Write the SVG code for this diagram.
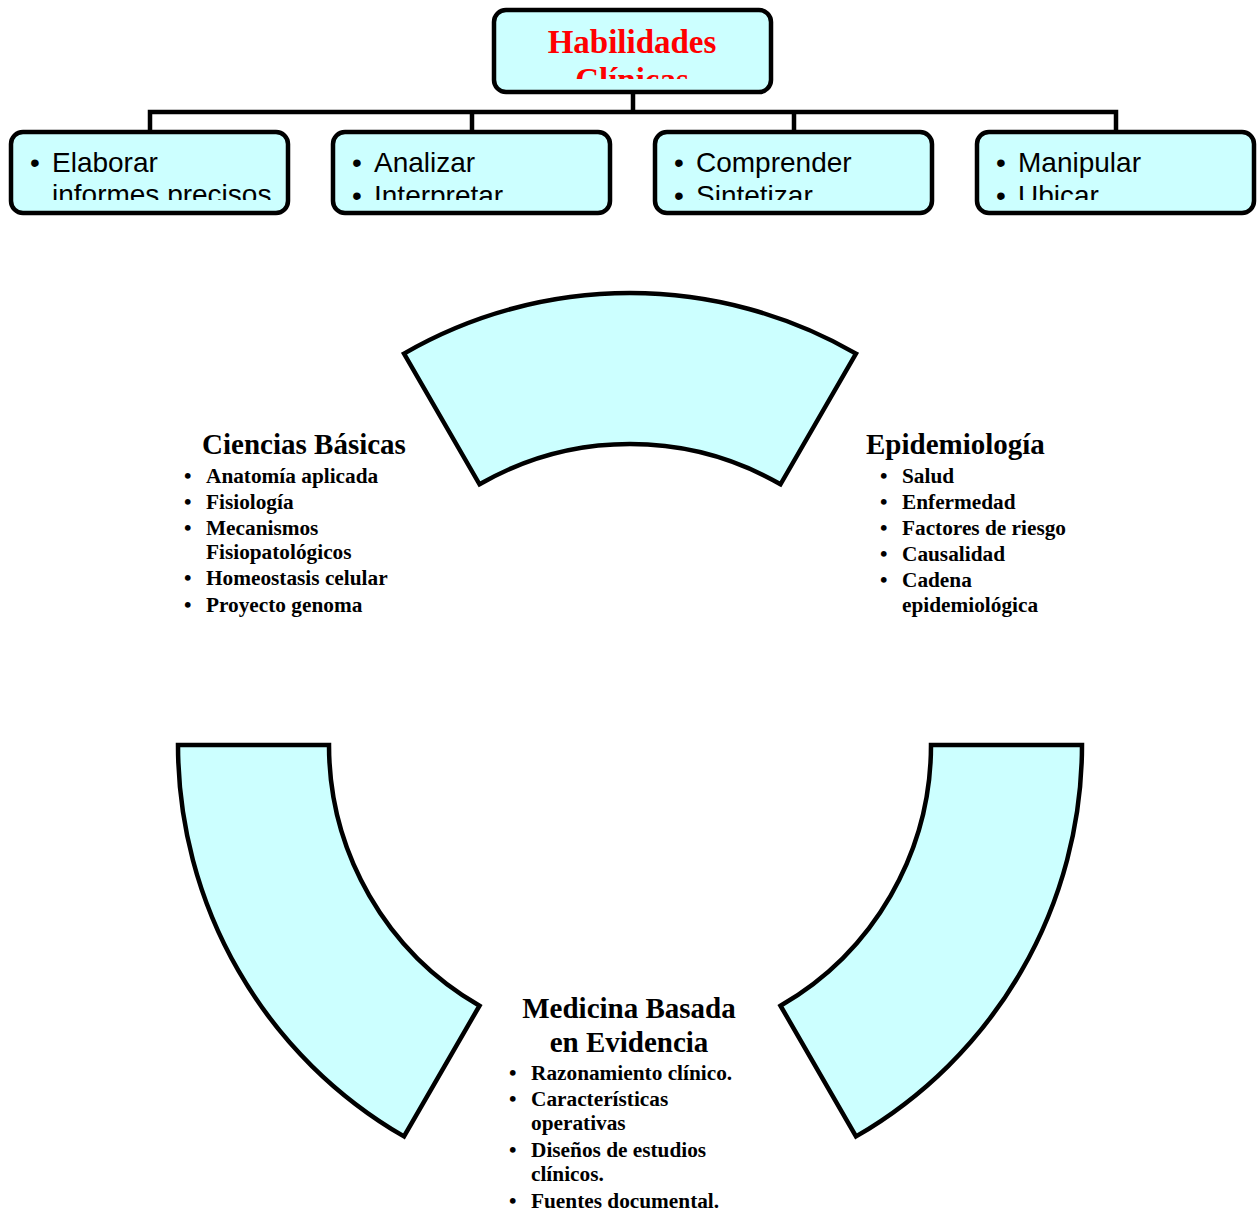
<svg xmlns="http://www.w3.org/2000/svg" width="1258" height="1213" viewBox="0 0 1258 1213">
<style>
.box{fill:#CCFFFF;stroke:#000;stroke-width:4.5}
.seg{fill:#CCFFFF;stroke:#000;stroke-width:4.5;stroke-linejoin:miter}
.conn{fill:none;stroke:#000;stroke-width:4.5}
.title{font-family:"Liberation Serif",serif;font-weight:bold;font-size:33px;fill:#FF0000}
.item{font-family:"Liberation Sans",Arial,sans-serif;font-size:28px;fill:#000}
.head{font-family:"Liberation Serif",serif;font-weight:bold;font-size:29px;fill:#000}
.li{font-family:"Liberation Serif",serif;font-weight:bold;font-size:21.3px;fill:#000}
</style>
<defs>
<clipPath id="cTop"><rect x="498" y="14" width="270" height="65"/></clipPath>
<clipPath id="c1"><rect x="15" y="136" width="270" height="64"/></clipPath>
<clipPath id="c2"><rect x="337" y="136" width="270" height="64"/></clipPath>
<clipPath id="c3"><rect x="659" y="136" width="270" height="64"/></clipPath>
<clipPath id="c4"><rect x="981" y="136" width="270" height="64"/></clipPath>
</defs>
<rect width="1258" height="1213" fill="#fff"/>
<g id="connectors">
<path class="conn" d="M633 92V112M150 132V112H1116V132M472 112V132M794 112V132"/>
</g>
<g id="habilidades">
<rect class="box" x="494" y="10" width="277" height="82" rx="12"/>
<g clip-path="url(#cTop)">
<text class="title" x="632" y="53" text-anchor="middle">Habilidades</text>
<text class="title" x="632" y="91" text-anchor="middle">Clínicas</text>
</g>
</g>
<g id="box1">
<rect class="box" x="11" y="132" width="277" height="81" rx="12"/>
<g clip-path="url(#c1)">
<text class="item" x="30" y="172">•</text><text class="item" x="52" y="172">Elaborar</text>
<text class="item" x="52" y="204">informes precisos</text>
</g>
</g>
<g id="box2">
<rect class="box" x="333" y="132" width="277" height="81" rx="12"/>
<g clip-path="url(#c2)">
<text class="item" x="352" y="172">•</text><text class="item" x="374" y="172">Analizar</text>
<text class="item" x="352" y="205">•</text><text class="item" x="374" y="205">Interpretar</text>
</g>
</g>
<g id="box3">
<rect class="box" x="655" y="132" width="277" height="81" rx="12"/>
<g clip-path="url(#c3)">
<text class="item" x="674" y="172">•</text><text class="item" x="696" y="172">Comprender</text>
<text class="item" x="674" y="205">•</text><text class="item" x="696" y="205">Sintetizar</text>
</g>
</g>
<g id="box4">
<rect class="box" x="977" y="132" width="277" height="81" rx="12"/>
<g clip-path="url(#c4)">
<text class="item" x="996" y="172">•</text><text class="item" x="1018" y="172">Manipular</text>
<text class="item" x="996" y="205">•</text><text class="item" x="1018" y="205">Ubicar</text>
</g>
</g>
<g id="arc-top">
<path class="seg" d="M404 353.6A452 452 0 0 1 856 353.6L780.5 484.3A301 301 0 0 0 479.5 484.3Z"/>
</g>
<g id="arc-left">
<path class="seg" d="M178 745A452 452 0 0 0 404 1136.4L479.5 1005.7A301 301 0 0 1 329 745Z"/>
</g>
<g id="arc-right">
<path class="seg" d="M1082 745A452 452 0 0 1 856 1136.4L780.5 1005.7A301 301 0 0 0 931 745Z"/>
</g>
<g id="ciencias">
<text class="head" x="304" y="454" text-anchor="middle">Ciencias Básicas</text>
<text class="li" x="184" y="483">•</text><text class="li" x="206" y="483">Anatomía aplicada</text>
<text class="li" x="184" y="509">•</text><text class="li" x="206" y="509">Fisiología</text>
<text class="li" x="184" y="535">•</text><text class="li" x="206" y="535">Mecanismos</text>
<text class="li" x="206" y="559">Fisiopatológicos</text>
<text class="li" x="184" y="585">•</text><text class="li" x="206" y="585">Homeostasis celular</text>
<text class="li" x="184" y="612">•</text><text class="li" x="206" y="612">Proyecto genoma</text>
</g>
<g id="epidemiologia">
<text class="head" x="866" y="454">Epidemiología</text>
<text class="li" x="880" y="483">•</text><text class="li" x="902" y="483">Salud</text>
<text class="li" x="880" y="509">•</text><text class="li" x="902" y="509">Enfermedad</text>
<text class="li" x="880" y="535">•</text><text class="li" x="902" y="535">Factores de riesgo</text>
<text class="li" x="880" y="561">•</text><text class="li" x="902" y="561">Causalidad</text>
<text class="li" x="880" y="587">•</text><text class="li" x="902" y="587">Cadena</text>
<text class="li" x="902" y="612">epidemiológica</text>
</g>
<g id="medicina">
<text class="head" x="629" y="1018" text-anchor="middle">Medicina Basada</text>
<text class="head" x="629" y="1052" text-anchor="middle">en Evidencia</text>
<text class="li" x="509" y="1080">•</text><text class="li" x="531" y="1080">Razonamiento clínico.</text>
<text class="li" x="509" y="1106">•</text><text class="li" x="531" y="1106">Características</text>
<text class="li" x="531" y="1130">operativas</text>
<text class="li" x="509" y="1157">•</text><text class="li" x="531" y="1157">Diseños de estudios</text>
<text class="li" x="531" y="1181">clínicos.</text>
<text class="li" x="509" y="1208">•</text><text class="li" x="531" y="1208">Fuentes documental.</text>
</g>
</svg>
